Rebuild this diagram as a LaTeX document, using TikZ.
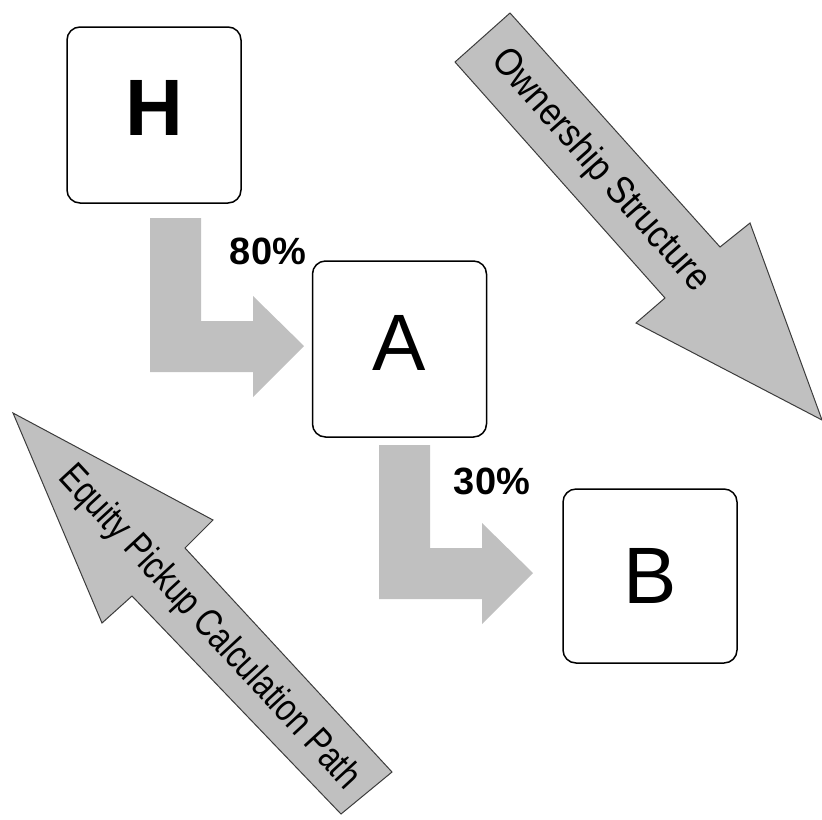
\documentclass[tikz,border=0pt]{standalone}
\usepackage{fontspec}
\setmainfont{Liberation Sans}
\usepackage{graphicx}
\usetikzlibrary{calc}
\definecolor{arrowgray}{RGB}{192,192,192}
\definecolor{edgegray}{RGB}{60,60,60}
\def\bentarrow(#1,#2){\fill[arrowgray,shift={(#1,#2)}] (0,0) -- (51,0) -- (51,103) -- (103,103) -- (103,78) -- (154,128) -- (103,179) -- (103,154) -- (0,154) -- cycle;}

\begin{document}
\begin{tikzpicture}[x=0.5pt,y=-0.5pt,
	box/.style={draw,line width=0.75pt,rounded corners=6.5pt,inner sep=0pt,minimum width=87pt,minimum height=88pt,font=\fontsize{40}{40}\selectfont},
	pct/.style={font=\bfseries\fontsize{19}{19}\selectfont},
	bigarrow/.style={fill=arrowgray,draw=edgegray,line width=0.5pt},
	tag/.style={inner sep=0pt,font=\fontsize{19.5}{19.5}\selectfont}]
			%%%%% START %%%%%
			\useasboundingbox (0,0) rectangle (822,819);
			
			\node[box,text depth=7pt,font=\bfseries\fontsize{40}{40}\selectfont] (H) at (154,115) {H};
			\node[box,text depth=6.5pt] (A) at (399.5,349) {A};
			\node[box,minimum height=87pt] (B) at (650,576) {B};
			
			\bentarrow(150,218);
			\bentarrow(379,445);
			\node[pct] (hA) at (268,251) {80\%};
			\node[pct] (aB) at (492,481) {30\%};
			
			\draw[bigarrow] (510,13) -- (720,247) -- (750,223) -- (822,420) -- (636,323) -- (665,298) -- (455,62) -- cycle;
			\node[tag,rotate=-48.6] (own) at (600,171) {\scalebox{0.87}[1]{Ownership Structure}};
			
			\draw[bigarrow] (13,413) -- (213,520) -- (185,548) -- (392,772) -- (341,814) -- (132,596) -- (102,623) -- cycle;
			\node[tag,rotate=-47.3] (eq) at (209,628) {\scalebox{0.8}[1]{Equity Pickup Calculation Path}};
			%%%%% END %%%%%
\end{tikzpicture}
\end{document}
